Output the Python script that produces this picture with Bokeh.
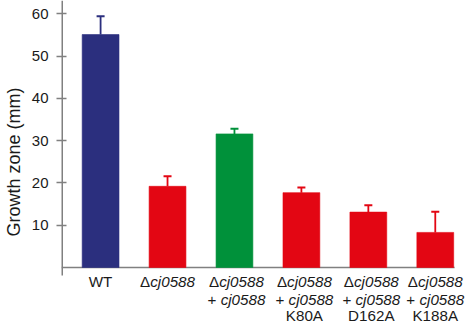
from bokeh.plotting import figure
from bokeh.models import FixedTicker, ColumnDataSource
from bokeh.core.properties import value
from bokeh.embed import file_html
from bokeh.resources import INLINE

# ---- data ----
positions = [0, 1, 2, 3, 4, 5]
values = [55.1, 19.2, 31.6, 17.7, 13.1, 8.3]
errors = [4.3, 2.4, 1.2, 1.2, 1.6, 4.9]
colors = ["#2B2F7E", "#E30613", "#00913A", "#E30613", "#E30613", "#E30613"]
y_ticks = [10, 20, 30, 40, 50, 60]
y_title = "Growth zone (mm)"
# category labels: lines of (text, style) segments
cat_labels = [
    [[("WT", "normal")]],
    [[("Δ", "normal"), ("cj0588", "italic")]],
    [[("Δ", "normal"), ("cj0588", "italic")], [("+ ", "normal"), ("cj0588", "italic")]],
    [[("Δ", "normal"), ("cj0588", "italic")], [("+ ", "normal"), ("cj0588", "italic")], [("K80A", "normal")]],
    [[("Δ", "normal"), ("cj0588", "italic")], [("+ ", "normal"), ("cj0588", "italic")], [("D162A", "normal")]],
    [[("Δ", "normal"), ("cj0588", "italic")], [("+ ", "normal"), ("cj0588", "italic")], [("K188A", "normal")]],
]
label_nudge_px = [0, 0, 2, 3, 3, 0]
line_baselines_px = [13.5, 31.5, 48]   # below the zero line

FONT = "Liberation Sans"
PX = 4.228            # pixels per y unit
XPX = 67.6            # pixels per category
X0 = -0.584
X_AXIS_END = 5.289
Y_AXIS_BOTTOM = -8 / PX

p = figure(width=465, height=323, output_backend="svg", toolbar_location=None,
           x_range=(X0, X0 + 408 / XPX), y_range=(-56 / PX, 267 / PX),
           min_border_left=57, min_border_right=0, min_border_top=0, min_border_bottom=0)
p.outline_line_color = None
p.xgrid.visible = False
p.ygrid.visible = False
p.xaxis.visible = False

yax = p.yaxis[0]
yax.ticker = FixedTicker(ticks=y_ticks)
yax.minor_tick_line_color = None
yax.major_tick_in = 5
yax.major_tick_out = 5
yax.major_tick_line_color = "#808080"
yax.major_tick_line_width = 1.3
yax.axis_line_color = None
yax.major_label_standoff = 8
yax.major_label_text_font = FONT
yax.major_label_text_font_size = "15px"
yax.major_label_text_color = "#1a1a1a"
yax.axis_label = y_title
yax.axis_label_text_font = FONT
yax.axis_label_text_font_size = "18px"
yax.axis_label_text_font_style = "normal"
yax.axis_label_text_color = "#1a1a1a"
yax.axis_label_standoff = 5

# axis spines
p.segment(x0=[X0], y0=[Y_AXIS_BOTTOM], x1=[X0], y1=[267 / PX], line_color="#808080", line_width=3)
p.segment(x0=[X0], y0=[0], x1=[X_AXIS_END], y1=[0], line_color="#808080", line_width=1.5)

tops = [v + e for v, e in zip(values, errors)]
src = ColumnDataSource(dict(x=positions, top=values, err=tops, color=colors))
p.vbar(x="x", top="top", bottom=0, width=0.55, fill_color="color", line_color="color",
       line_alpha=0.6, source=src)
p.segment(x0="x", y0="top", x1="x", y1="err", line_color="color", line_width=1.8, source=src)
p.scatter(x="x", y="err", marker="dash", size=8, line_color="color", line_width=2, source=src)

# character widths (em) for Liberation Sans
W = {"W": .944, "T": .611, "Δ": .668, "c": .5, "j": .222, "+": .584, " ": .278,
     "K": .667, "A": .667, "D": .722}
for d in "0123456789":
    W[d] = .556
FS = 15.2

def width(s):
    return sum(W.get(ch, .556) for ch in s) * FS

groups = {"normal": dict(x=[], y=[], text=[], xo=[]), "italic": dict(x=[], y=[], text=[], xo=[])}
for xi, lines, nudge in zip(positions, cat_labels, label_nudge_px):
    for li, segs in enumerate(lines):
        total = sum(width(t) for t, _ in segs)
        off = -total / 2 + nudge
        for t, style in segs:
            g = groups[style]
            g["x"].append(xi)
            g["y"].append(-line_baselines_px[li] / PX)
            g["text"].append(t)
            g["xo"].append(off)
            off += width(t)

for style, g in groups.items():
    p.text(x="x", y="y", text="text", x_offset="xo", source=ColumnDataSource(g),
           text_align="left", text_baseline="alphabetic", text_font=value(FONT),
           text_font_size=f"{FS}px", text_font_style=style, text_color="#1a1a1a")

open("out.html", "w").write(file_html(p, INLINE))
